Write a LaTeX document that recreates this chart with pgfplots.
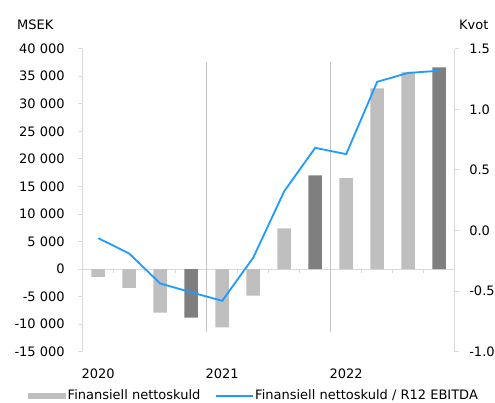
\documentclass[border=0pt]{standalone}
\usepackage{pgfplots}
\pgfplotsset{compat=1.18}
\usepackage{pgfplotstable}
\usepackage{fontspec}
\setmainfont{DejaVu Sans}
\definecolor{barlight}{HTML}{BFBFBF}
\definecolor{bardark}{HTML}{7F7F7F}
\definecolor{linegray}{HTML}{D9D9D9}
\definecolor{vgray}{HTML}{C4C4C4}
\definecolor{kvotblue}{HTML}{1E9BFF}

\pgfplotstableread{
x val
0 -1400
1 -3400
2 -7900
4 -10600
5 -4800
6 7400
8 16500
9 32800
10 35800
}\lightbars
\pgfplotstableread{
x val
3 -8800
7 17000
11 36600
}\darkbars
\pgfplotstableread{
x val
0 -0.063
1 -0.19
2 -0.437
3 -0.51
4 -0.58
5 -0.225
6 0.324
7 0.682
8 0.63
9 1.227
10 1.30
11 1.318
}\kvot

\begin{document}
\fontsize{13}{16}\selectfont
\begin{tikzpicture}[font=\fontsize{13}{16}\selectfont]
\path[use as bounding box] (-82.7pt,-51.3pt) rectangle (412.3pt,351.7pt);
\begin{axis}[
  scale only axis, width=372pt, height=303pt,
  xmin=-0.5, xmax=11.5, ymin=-15000, ymax=40000,
  scaled y ticks=false,
  axis y line*=left, axis x line*=bottom,
  x axis line style={draw=none},
  y axis line style={draw=linegray, line width=0.8pt},
  xtick={0,4,8}, xticklabels={2020,2021,2022},
  xtick style={draw=none},
  xticklabel style={anchor=base, inner sep=0pt, yshift=-22.6pt},
  ytick={-15000,-10000,-5000,0,5000,10000,15000,20000,25000,30000,35000,40000},
  yticklabels={-15 000,-10 000,-5 000,0,5 000,10 000,15 000,20 000,25 000,30 000,35 000,40 000},
  ytick style={draw=linegray, line width=0.8pt},
  tick align=outside, major tick length=4.4pt,
  yticklabel style={anchor=east, inner sep=0pt, xshift=-13.4pt},
  legend style={at={(-0.147,-0.146)}, anchor=west, draw=none, fill=none,
    inner sep=0pt, legend columns=2,
    /tikz/every even column/.append style={column sep=13pt},
    nodes={inner sep=1.5pt}},
  legend cell align=left,
]
\draw[linegray, line width=0.8pt] (axis cs:-0.5,0) -- (axis cs:11.5,0);
\pgfplotsinvokeforeach{0.5,1.5,2.5,4.5,5.5,6.5,8.5,9.5,10.5}{
  \draw[linegray, line width=0.8pt] (axis cs:#1,0) -- ++(0pt,-4pt);
}
\draw[vgray, line width=0.8pt] (axis cs:3.5,-11500) -- (axis cs:3.5,37500);
\draw[vgray, line width=0.8pt] (axis cs:7.5,-11500) -- (axis cs:7.5,37500);
\addplot[ybar, bar width=13.5pt, bar shift=0pt, fill=barlight, draw=none,
  legend image code/.code={\fill[barlight] (0pt,-3pt) rectangle (38pt,3pt);}]
  table[x=x, y=val] {\lightbars};
\addlegendentry{Finansiell nettoskuld}
\addplot[ybar, bar width=13.5pt, bar shift=0pt, fill=bardark, draw=none, forget plot]
  table[x=x, y=val] {\darkbars};
\addlegendimage{legend image code/.code={\draw[kvotblue, line width=1.8pt] (0pt,0pt) -- (37pt,0pt);}}
\addlegendentry{Finansiell nettoskuld / R12 EBITDA}
\end{axis}
\begin{axis}[
  scale only axis, width=372pt, height=303pt,
  xmin=-0.5, xmax=11.5, ymin=-1, ymax=1.5,
  axis y line*=right, axis x line=none,
  y axis line style={draw=linegray, line width=0.8pt},
  ytick={-1,-0.5,0,0.5,1,1.5},
  yticklabels={-1.0,-0.5,0.0,0.5,1.0,1.5},
  ytick style={draw=linegray, line width=0.8pt},
  tick align=outside, major tick length=4.4pt,
  yticklabel style={anchor=west, inner sep=0pt, xshift=10pt},
]
\addplot[kvotblue, line width=1.8pt, mark=none] table[x=x, y=val] {\kvot};
\end{axis}
\node[anchor=base west, inner sep=0pt] at (-65.7pt,321.7pt) {MSEK};
\node[anchor=base west, inner sep=0pt] at (376.3pt,321.7pt) {Kvot};
\end{tikzpicture}
\end{document}
